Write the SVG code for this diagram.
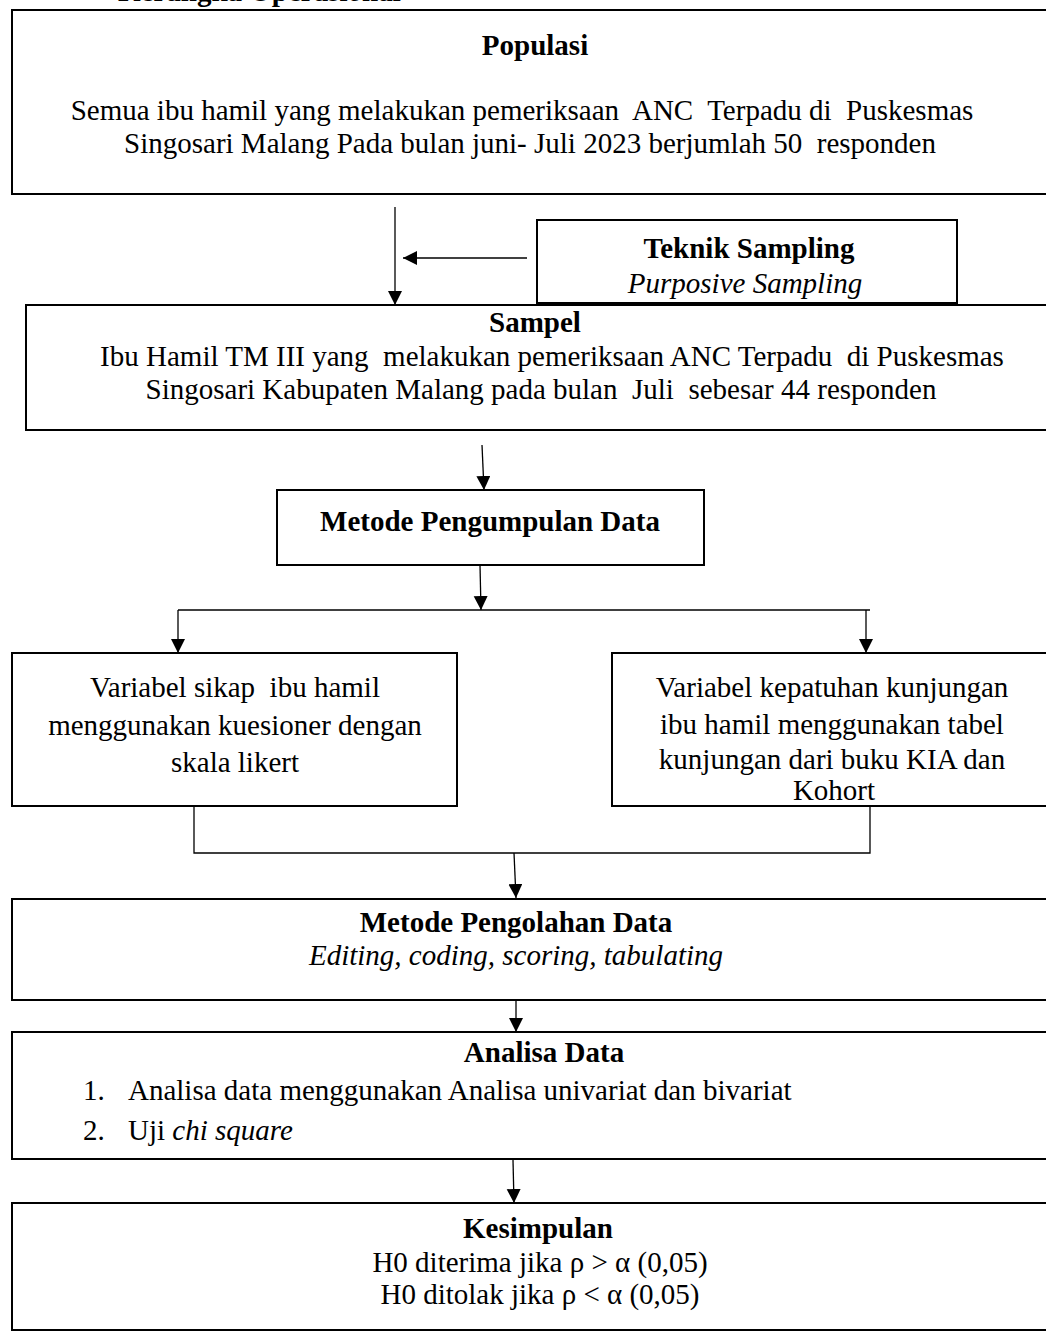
<svg xmlns="http://www.w3.org/2000/svg" width="1046" height="1344" viewBox="0 0 1046 1344">
<style>
text{font-family:"Liberation Serif","Times New Roman",serif;font-size:29px;fill:#000;white-space:pre}
.b{font-weight:bold}
.i{font-style:italic}
.c{text-anchor:middle}
.box{fill:#fff;stroke:#000;stroke-width:2}
.ln{fill:none;stroke:#000;stroke-width:1.3}
.ar{fill:none;stroke:#000;stroke-width:1.3;marker-end:url(#ah)}
</style>
<defs>
<marker id="ah" markerUnits="userSpaceOnUse" markerWidth="14" markerHeight="18" viewBox="0 0 14 18" refX="14" refY="7" orient="auto">
<path d="M0,0 L14,7 L0,14 Z" fill="#000"/>
</marker>
<clipPath id="tk"><rect x="537" y="220" width="420" height="83"/></clipPath>
</defs>
<rect width="1046" height="1344" fill="#fff"/>
<text class="b" x="118" y="1">Kerangka Operasional</text>

<g id="connectors">
<line class="ar" x1="395" y1="207" x2="395" y2="305"/>
<line class="ar" x1="527" y1="258" x2="403" y2="258"/>
<line class="ar" x1="482" y1="445" x2="484" y2="490"/>
<line class="ar" x1="480" y1="565" x2="481" y2="610"/>
<polyline class="ln" points="178,610 870,610"/>
<line class="ar" x1="178" y1="610" x2="178" y2="653"/>
<line class="ar" x1="866" y1="610" x2="866" y2="653"/>
<polyline class="ln" points="194,806 194,853 870,853 870,806"/>
<line class="ar" x1="514" y1="853" x2="516" y2="898"/>
<line class="ar" x1="516" y1="1000" x2="516" y2="1032"/>
<line class="ar" x1="513" y1="1160" x2="514" y2="1203"/>
</g>

<g id="populasi">
<rect class="box" x="12" y="10" width="1050" height="184"/>
<text class="b c" x="535" y="55">Populasi</text>
<text class="c" x="522" y="120">Semua ibu hamil yang melakukan pemeriksaan  ANC  Terpadu di  Puskesmas</text>
<text class="c" x="530" y="153">Singosari Malang Pada bulan juni- Juli 2023 berjumlah 50  responden</text>
</g>

<g id="teknik">
<rect class="box" x="537" y="220" width="420" height="83"/>
<g clip-path="url(#tk)">
<text class="b c" x="749" y="258">Teknik Sampling</text>
<text class="i c" x="745" y="293">Purposive Sampling</text>
</g>
</g>

<g id="sampel">
<rect class="box" x="26" y="305" width="1036" height="125"/>
<text class="b c" x="535" y="332">Sampel</text>
<text class="c" x="552" y="366">Ibu Hamil TM III yang  melakukan pemeriksaan ANC Terpadu  di Puskesmas</text>
<text class="c" x="541" y="399">Singosari Kabupaten Malang pada bulan  Juli  sebesar 44 responden</text>
</g>

<g id="pengumpulan">
<rect class="box" x="277" y="490" width="427" height="75"/>
<text class="b c" x="490" y="531">Metode Pengumpulan Data</text>
</g>

<g id="sikap">
<rect class="box" x="12" y="653" width="445" height="153"/>
<text class="c" x="235" y="697">Variabel sikap  ibu hamil</text>
<text class="c" x="235" y="735">menggunakan kuesioner dengan</text>
<text class="c" x="235" y="772">skala likert</text>
</g>

<g id="kepatuhan">
<rect class="box" x="612" y="653" width="450" height="153"/>
<text class="c" x="832" y="697">Variabel kepatuhan kunjungan</text>
<text class="c" x="832" y="734">ibu hamil menggunakan tabel</text>
<text class="c" x="832" y="769">kunjungan dari buku KIA dan</text>
<text class="c" x="834" y="800">Kohort</text>
</g>

<g id="pengolahan">
<rect class="box" x="12" y="899" width="1050" height="101"/>
<text class="b c" x="516" y="932">Metode Pengolahan Data</text>
<text class="i c" x="516" y="965">Editing, coding, scoring, tabulating</text>
</g>

<g id="analisa">
<rect class="box" x="12" y="1032" width="1050" height="127"/>
<text class="b c" x="544" y="1062">Analisa Data</text>
<text x="83" y="1100">1.</text>
<text x="128" y="1100">Analisa data menggunakan Analisa univariat dan bivariat</text>
<text x="83" y="1140">2.</text>
<text x="128" y="1140">Uji <tspan class="i">chi square</tspan></text>
</g>

<g id="kesimpulan">
<rect class="box" x="12" y="1203" width="1050" height="127"/>
<text class="b c" x="538" y="1238">Kesimpulan</text>
<text class="c" x="540" y="1272">H0 diterima jika ρ &gt; α (0,05)</text>
<text class="c" x="540" y="1304">H0 ditolak jika ρ &lt; α (0,05)</text>
</g>
</svg>
